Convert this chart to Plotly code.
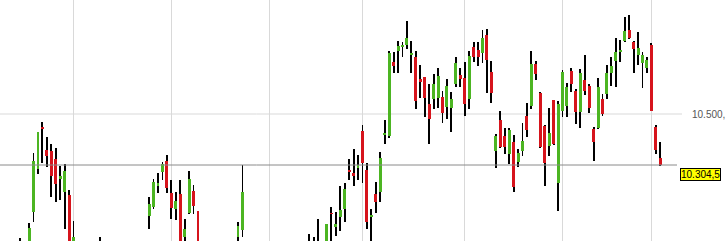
import plotly.graph_objects as go

# ---- data (daily candles, index 0..144) ----
opens = [9990, 9975, 9985, 10124, 10289, 10450, 10362, 10358, 10327, 10251,
         10201, 10190, 9975, 10000, 9950, 9920, 9945, 9930, 9960, 9990,
         9935, 9900, 9925, 9960, 9945, 9970, 9950, 9980, 9995, 10109,
         10143, 10224, 10278, 10320, 10197, 10136, 10193, 10028, 10120, 10205,
         10127, 9985, 9950, 9915, 9935, 9970, 9945, 9910, 9940, 10028,
         10055, 10005, 9960, 9930, 9900, 9870, 9890, 9875, 9840, 9860,
         9895, 9925, 9905, 9940, 9970, 9960, 9995, 9970, 10000, 9985,
         10120, 10067, 10105, 10136, 10285, 10274, 10293, 10435, 10285, 10105,
         10193, 10201, 10420, 10416, 10699, 10741, 10757, 10764, 10726, 10718,
         10634, 10641, 10538, 10557, 10561, 10565, 10527, 10523, 10615, 10649,
         10638, 10557, 10757, 10745, 10734, 10803, 10661, 10358, 10477, 10416,
         10347, 10393, 10316, 10358, 10492, 10531, 10692, 10581, 10454, 10377,
         10553, 10235, 10512, 10531, 10665, 10588, 10508, 10630, 10607, 10443,
         10446, 10558, 10577, 10657, 10703, 10738, 10780, 10822, 10776, 10726,
         10696, 10676, 10765, 10450, 10331]
highs = [10025, 10005, 10082, 10350, 10431, 10469, 10412, 10385, 10370, 10301,
         10308, 10209, 10090, 10008, 9985, 9960, 9990, 9970, 10028, 10005,
         9960, 9940, 9975, 9995, 9980, 10000, 9990, 10008, 10010, 10182,
         10251, 10274, 10316, 10343, 10247, 10201, 10247, 10097, 10281, 10228,
         10128, 10005, 9975, 9950, 9985, 10000, 9965, 9955, 10000, 10086,
         10304, 10010, 9990, 9960, 9935, 9905, 9925, 9900, 9880, 9910,
         9940, 9960, 9950, 9985, 10005, 10040, 10028, 10097, 10010, 10078,
         10143, 10124, 10224, 10235, 10327, 10366, 10343, 10458, 10312, 10136,
         10239, 10354, 10477, 10741, 10738, 10780, 10776, 10856, 10780, 10741,
         10688, 10642, 10615, 10653, 10676, 10588, 10634, 10584, 10718, 10676,
         10699, 10741, 10776, 10776, 10822, 10826, 10703, 10423, 10512, 10446,
         10446, 10420, 10366, 10466, 10542, 10741, 10703, 10584, 10458, 10523,
         10554, 10550, 10669, 10619, 10676, 10596, 10672, 10726, 10615, 10450,
         10638, 10577, 10688, 10719, 10791, 10784, 10872, 10880, 10780, 10814,
         10738, 10719, 10772, 10458, 10393]
lows = [9950, 9945, 9975, 10086, 10270, 10312, 10297, 10182, 10163, 10170,
        10059, 9960, 9955, 9930, 9900, 9880, 9910, 9890, 9945, 9920,
        9880, 9860, 9905, 9930, 9900, 9935, 9925, 9950, 9965, 10059,
        10136, 10197, 10247, 10197, 10097, 10094, 9975, 10000, 10118, 10117,
        9960, 9930, 9900, 9870, 9915, 9930, 9890, 9880, 9925, 9995,
        10028, 9940, 9910, 9880, 9850, 9830, 9860, 9820, 9800, 9845,
        9870, 9890, 9880, 9920, 9940, 9945, 9950, 9955, 9950, 9970,
        9995, 10032, 10051, 10086, 10247, 10224, 10247, 10235, 10059, 9995,
        10120, 10163, 10385, 10408, 10657, 10657, 10718, 10749, 10657, 10519,
        10561, 10488, 10385, 10519, 10523, 10465, 10481, 10431, 10603, 10603,
        10492, 10519, 10699, 10684, 10695, 10580, 10542, 10293, 10370, 10347,
        10308, 10201, 10297, 10339, 10412, 10519, 10630, 10370, 10224, 10339,
        10381, 10128, 10488, 10488, 10584, 10462, 10446, 10573, 10504, 10320,
        10443, 10492, 10558, 10607, 10603, 10699, 10776, 10788, 10657, 10688,
        10600, 10657, 10511, 10347, 10301]
closes = [9975, 9985, 10063, 10320, 10431, 10442, 10339, 10262, 10232, 10262,
          10281, 9985, 10028, 9950, 9920, 9945, 9930, 9960, 9990, 9935,
          9900, 9925, 9960, 9945, 9970, 9950, 9980, 9995, 10000, 10155,
          10239, 10235, 10308, 10216, 10140, 10166, 9990, 10059, 10251, 10147,
          9985, 9950, 9915, 9935, 9970, 9945, 9910, 9940, 9985, 10071,
          10201, 9960, 9930, 9900, 9870, 9890, 9875, 9840, 9860, 9895,
          9925, 9905, 9940, 9970, 9960, 9995, 9970, 10000, 9975, 10078,
          10117, 10078, 10132, 10212, 10281, 10262, 10304, 10312, 10086, 10113,
          10163, 10331, 10427, 10734, 10684, 10761, 10761, 10791, 10734, 10550,
          10623, 10561, 10481, 10615, 10646, 10504, 10607, 10557, 10695, 10634,
          10538, 10722, 10718, 10718, 10791, 10707, 10580, 10416, 10374, 10374,
          10439, 10220, 10351, 10397, 10439, 10692, 10653, 10374, 10312, 10427,
          10385, 10538, 10661, 10603, 10615, 10508, 10657, 10588, 10523, 10393,
          10603, 10500, 10657, 10684, 10738, 10742, 10818, 10791, 10749, 10753,
          10726, 10707, 10512, 10362, 10304.5]
month_starts = [12, 34, 56, 77, 100, 122, 142]   # candle index of vertical gridlines
grid_levels = [10500]
label_levels = ["10.500,"]   # visible part of the axis label in the reference

UP = "#4cb522"
DOWN = "#d6141c"

n = len(closes)
idx = list(range(n))
body_base = [min(o, c) for o, c in zip(opens, closes)]
body_h = [abs(c - o) for o, c in zip(opens, closes)]
body_col = [UP if c >= o else DOWN for o, c in zip(opens, closes)]
wick_h = [h - l for h, l in zip(highs, lows)]

fig = go.Figure()
fig.add_trace(go.Bar(x=idx, base=lows, y=wick_h, width=0.2,
                     marker=dict(color="#000000", line=dict(width=0)),
                     hoverinfo="skip", showlegend=False))
fig.add_trace(go.Bar(x=idx, base=body_base, y=body_h, width=0.66,
                     marker=dict(color=body_col, line=dict(width=0)),
                     hoverinfo="skip", showlegend=False))

def de(v):
    s = f"{v:,.1f}"
    return s.replace(",", "X").replace(".", ",").replace("X", ".")

shapes = []
for g in grid_levels:
    shapes.append(dict(type="line", xref="paper", yref="y", x0=0, x1=1.0074,
                       y0=g, y1=g, line=dict(color="#d9d9d9", width=1), layer="below"))
last = closes[-1]
shapes.append(dict(type="line", xref="paper", yref="y", x0=0, x1=1.0,
                   y0=last, y1=last, line=dict(color="#8a8a8a", width=1)))

annotations = []
for g, t in zip(grid_levels, label_levels):
    annotations.append(dict(xref="paper", yref="y", x=1.0185, y=g, text=t,
                            showarrow=False, xanchor="left", yanchor="middle",
                            font=dict(family="Liberation Sans, Arial", size=10, color="#555555")))
annotations.append(dict(xref="paper", yref="y", x=1.0044, y=last, text=de(last),
                        showarrow=False, xanchor="left", yanchor="top", yshift=-3,
                        bgcolor="#ffff00", bordercolor="#000000", borderwidth=1, borderpad=0,
                        font=dict(family="Liberation Sans, Arial", size=10, color="#000000")))

fig.update_layout(
    width=725, height=241,
    margin=dict(l=0, r=48, t=0, b=0),
    paper_bgcolor="white", plot_bgcolor="white",
    barmode="overlay", bargap=0,
    showlegend=False,
    shapes=shapes, annotations=annotations,
    xaxis=dict(range=[-4.544, 147.76], tickvals=month_starts, showticklabels=False,
               showgrid=True, gridcolor="#d9d9d9", gridwidth=1, zeroline=False,
               showline=False, ticks="", fixedrange=True),
    yaxis=dict(range=[10013.2, 10937], showgrid=False, showticklabels=False,
               zeroline=False, showline=False, ticks="", fixedrange=True),
)
fig.write_html("out.html")
